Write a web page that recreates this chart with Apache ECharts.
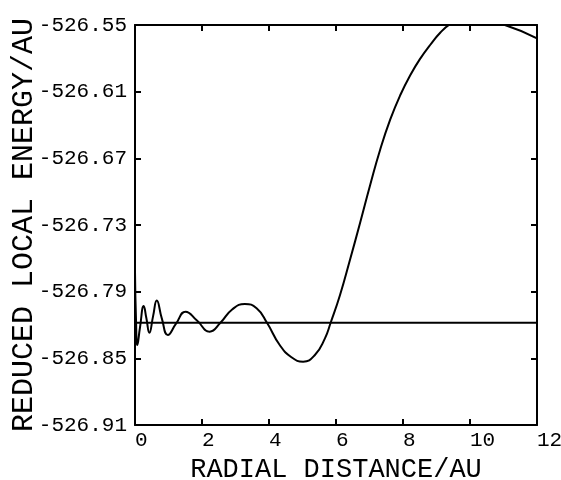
<!DOCTYPE html>
<html>
<head>
<meta charset="utf-8">
<script src="https://cdn.jsdelivr.net/npm/echarts@6/dist/echarts.min.js"></script>
<style>
  html, body { margin: 0; padding: 0; background: #fff; }
  #main { width: 561px; height: 480px; }
</style>
</head>
<body>
<div id="main"></div>
<script>
// radial distance (au) and reduced local energy (au)
var radius = [0, 0.03, 0.07, 0.15, 0.26, 0.34, 0.43, 0.54, 0.65, 0.8, 0.98, 1.22, 1.51, 1.85, 2.23, 2.55,
    2.9, 3.28, 3.63, 3.94, 4.32, 4.67, 5.02, 5.37, 5.67, 5.84, 6.12, 6.42, 6.72, 7.02, 7.32, 7.62,
    7.92, 8.22, 8.52, 8.81, 9.11, 9.41, 9.6, 10.25, 11.04, 12];
var energy = [-526.772, -526.815, -526.838, -526.822, -526.803, -526.814, -526.827, -526.812, -526.798,
    -526.814, -526.829, -526.819, -526.808, -526.816, -526.826, -526.818,
    -526.806, -526.801, -526.805, -526.818, -526.838, -526.849, -526.853, -526.847, -526.832,
    -526.818, -526.793, -526.761, -526.728, -526.694, -526.662, -526.635,
    -526.613, -526.595, -526.580, -526.568, -526.557, -526.549, -526.547, -526.545, -526.550, -526.562];
// flat reference level
var refX = [0, 12];
var refY = [-526.818, -526.818];

var xTicks = [0, 2, 4, 6, 8, 10, 12];
var yTicks = [-526.91, -526.85, -526.79, -526.73, -526.67, -526.61, -526.55];

var font = 'Liberation Mono';

function pairs(xs, ys) {
    var out = [];
    for (var i = 0; i < xs.length; i++) out.push([xs[i], ys[i]]);
    return out;
}

var myChart = echarts.init(document.getElementById('main'));

var tick = { show: true, inside: true, length: 6, lineStyle: { color: '#000', width: 2 } };
var line = { show: true, onZero: false, lineStyle: { color: '#000', width: 2 } };

var option = {
    animation: false,
    backgroundColor: '#fff',
    grid: { left: 135, right: 24, top: 25, bottom: 55, containLabel: false, outerBoundsMode: 'none' },
    xAxis: [{
        type: 'value',
        min: xTicks[0],
        max: xTicks[xTicks.length - 1],
        interval: 2,
        name: 'RADIAL DISTANCE/AU',
        nameLocation: 'middle',
        nameGap: 31,
        nameMoveOverlap: false,
        nameTextStyle: { fontFamily: font, fontSize: 27, color: '#000', verticalAlign: 'top' },
        axisLine: line,
        axisTick: tick,
        splitLine: { show: false },
        axisLabel: { align: 'left', margin: 5, fontFamily: font, fontSize: 21, color: '#000' }
    }, {
        type: 'value',
        position: 'top',
        min: 0, max: 12, interval: 2,
        axisLine: line,
        axisTick: tick,
        splitLine: { show: false },
        axisLabel: { show: false }
    }],
    yAxis: [{
        type: 'value',
        min: yTicks[0],
        max: yTicks[yTicks.length - 1],
        interval: 0.06,
        name: 'REDUCED LOCAL ENERGY/AU',
        nameLocation: 'middle',
        nameRotate: 90,
        nameGap: 96,
        nameMoveOverlap: false,
        nameTextStyle: { fontFamily: font, fontSize: 30, color: '#000' },
        axisLine: line,
        axisTick: tick,
        splitLine: { show: false },
        axisLabel: {
            margin: 8, fontFamily: font, fontSize: 21, color: '#000',
            padding: [0, 0, 6, 0],
            formatter: function (v) { return v.toFixed(2); }
        }
    }, {
        type: 'value',
        position: 'right',
        min: -526.91, max: -526.55, interval: 0.06,
        axisLine: line,
        axisTick: tick,
        splitLine: { show: false },
        axisLabel: { show: false }
    }],
    series: [{
        name: 'reference',
        type: 'line',
        data: pairs(refX, refY),
        showSymbol: false,
        lineStyle: { color: '#000', width: 2 }
    }, {
        name: 'local energy',
        type: 'line',
        data: pairs(radius, energy),
        smooth: 0.5,
        clip: true,
        showSymbol: false,
        lineStyle: { color: '#000', width: 2 }
    }]
};

myChart.setOption(option);
</script>
</body>
</html>
